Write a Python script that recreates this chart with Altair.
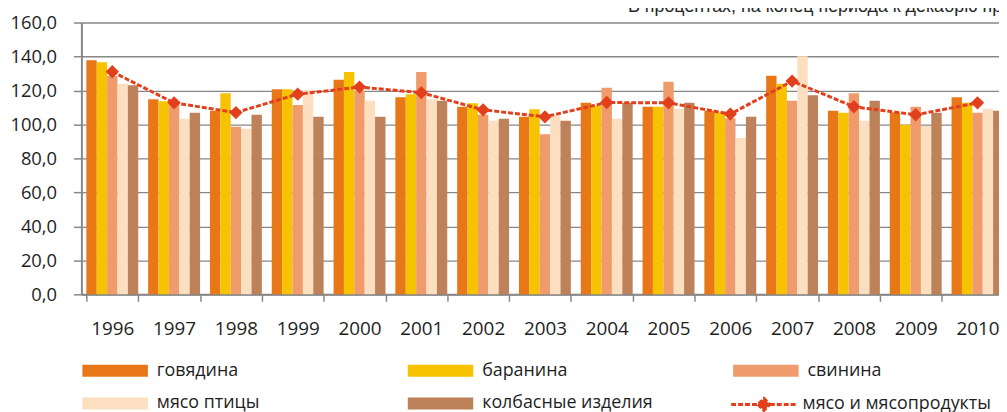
import altair as alt
import pandas as pd

years = [str(y) for y in range(1996, 2011)]
series = ["говядина", "баранина", "свинина", "мясо птицы", "колбасные изделия"]
beef = [137.8, 114.8, 108.0, 120.7, 126.3, 116.0, 110.4, 104.5, 112.7, 110.4, 108.0, 128.6, 108.0, 107.0, 116.0]
lamb = [136.6, 113.7, 118.3, 120.7, 130.8, 117.8, 112.5, 109.0, 110.9, 110.4, 107.0, 124.0, 106.9, 99.8, 112.7]
pork = [128.5, 112.0, 98.7, 111.5, 119.7, 130.8, 105.7, 94.2, 121.6, 125.1, 103.7, 113.9, 118.3, 110.4, 106.9]
poultry = [124.0, 103.3, 97.5, 120.3, 113.9, 114.8, 102.2, 105.1, 103.3, 109.2, 92.0, 140.1, 102.2, 99.1, 109.2]
sausage = [123.0, 106.9, 105.7, 104.5, 104.5, 113.9, 103.3, 102.2, 112.7, 112.7, 104.5, 117.2, 113.9, 106.9, 108.0]
meat_name = "мясо и мясопродукты"
meat = [131.0, 112.7, 107.0, 117.8, 122.0, 118.7, 108.6, 104.5, 112.9, 112.7, 106.1, 125.5, 110.4, 105.7, 112.7]
y_ticks = [0, 20, 40, 60, 80, 100, 120, 140, 160]
colors = ["#E87817", "#F7C300", "#EF9B6B", "#FBDFC0", "#BE825B"]
line_color = "#E2401C"
title_text = "В процентах, на конец периода к декабрю предыдущего года"

rows = []
for name, vals in zip(series, [beef, lamb, pork, poultry, sausage]):
    for y, v in zip(years, vals):
        rows.append({"year": y, "series": name, "value": v})
df_bars = pd.DataFrame(rows)
df_line = pd.DataFrame({"year": years, "value": meat, "name": meat_name})

FONT = "Open Sans"
GRID = "#878787"
TXT = "#1e1e1e"

rect_path = "M-1,-1H10V1H-1Z"
line_path = "M-1,0H3.5L4.5,-1L5.5,0L4.5,1L3.5,0M5.5,0H10"


def x_enc():
    return alt.X(
        "year:N",
        scale=alt.Scale(domain=years, range=[0, 934.5], paddingInner=0.16, paddingOuter=0.08),
        axis=alt.Axis(
            title=None, labelAngle=0, tickBand="extent", tickSize=7, tickWidth=1.5,
            tickColor=GRID, domainColor=GRID, domainWidth=2, grid=False,
            labelFont=FONT, labelFontSize=19, labelColor=TXT, labelPadding=19,
            labelOverlap=False,
        ),
    )


def y_enc():
    return alt.Y(
        "value:Q",
        scale=alt.Scale(domain=[0, 160], nice=False),
        axis=alt.Axis(
            title=None, values=y_ticks, tickCount=9,
            labelExpr="replace(format(datum.value, '.1f'), '.', ',')",
            grid=True, gridColor=GRID, gridWidth=1.3, labelOverlap=False,
            domainColor=GRID, domainWidth=2, tickColor=GRID, tickSize=8, tickWidth=1.5,
            labelFont=FONT, labelFontSize=18.5, labelColor=TXT, labelPadding=17,
        ),
    )


bars = alt.Chart(df_bars).mark_bar().encode(
    x=x_enc(),
    xOffset=alt.XOffset("series:N", scale=alt.Scale(domain=series, paddingInner=0, paddingOuter=0)),
    y=y_enc(),
    color=alt.Color(
        "series:N",
        scale=alt.Scale(domain=series, range=colors),
        legend=alt.Legend(
            title=None, orient="none", legendX=-2, legendY=342, direction="horizontal",
            columns=3, gridAlign="all", columnPadding=77, rowPadding=15,
            symbolType=rect_path, symbolSize=144, symbolStrokeWidth=0,
            labelFont=FONT, labelFontSize=18, labelColor=TXT, labelOffset=60, labelLimit=400,
        ),
    ),
)

line = alt.Chart(df_line).mark_line(color=line_color, strokeWidth=3).encode(
    x=x_enc(),
    y=y_enc(),
    strokeDash=alt.StrokeDash(
        "name:N",
        scale=alt.Scale(domain=[meat_name], range=[[5, 2]]),
        legend=alt.Legend(
            title=None, orient="none", legendX=652, legendY=376,
            symbolType=line_path, symbolSize=144, symbolStrokeWidth=3,
            symbolStrokeColor=line_color, symbolFillColor=line_color,
            labelFont=FONT, labelFontSize=18, labelColor=TXT, labelOffset=57, labelLimit=400,
        ),
    ),
)

points = alt.Chart(df_line).mark_point(
    shape="diamond", filled=True, size=180, color=line_color, opacity=1
).encode(x=x_enc(), y=y_enc())

chart = alt.layer(bars, line, points).properties(
    width=925,
    height=274,
    padding={"left": 74, "top": 13, "right": 0, "bottom": 117},
    autosize=alt.AutoSizeParams(type="none"),
    title=alt.TitleParams(
        text=title_text, anchor="start", frame="group", orient="top",
        dx=551, dy=16, offset=0, baseline="alphabetic",
        font="Liberation Sans", fontSize=18, fontWeight="normal", color="#262626",
    ),
    background="white",
).configure_view(strokeWidth=0)

chart.save("out.html", embed_options={"renderer": "svg", "actions": False})
